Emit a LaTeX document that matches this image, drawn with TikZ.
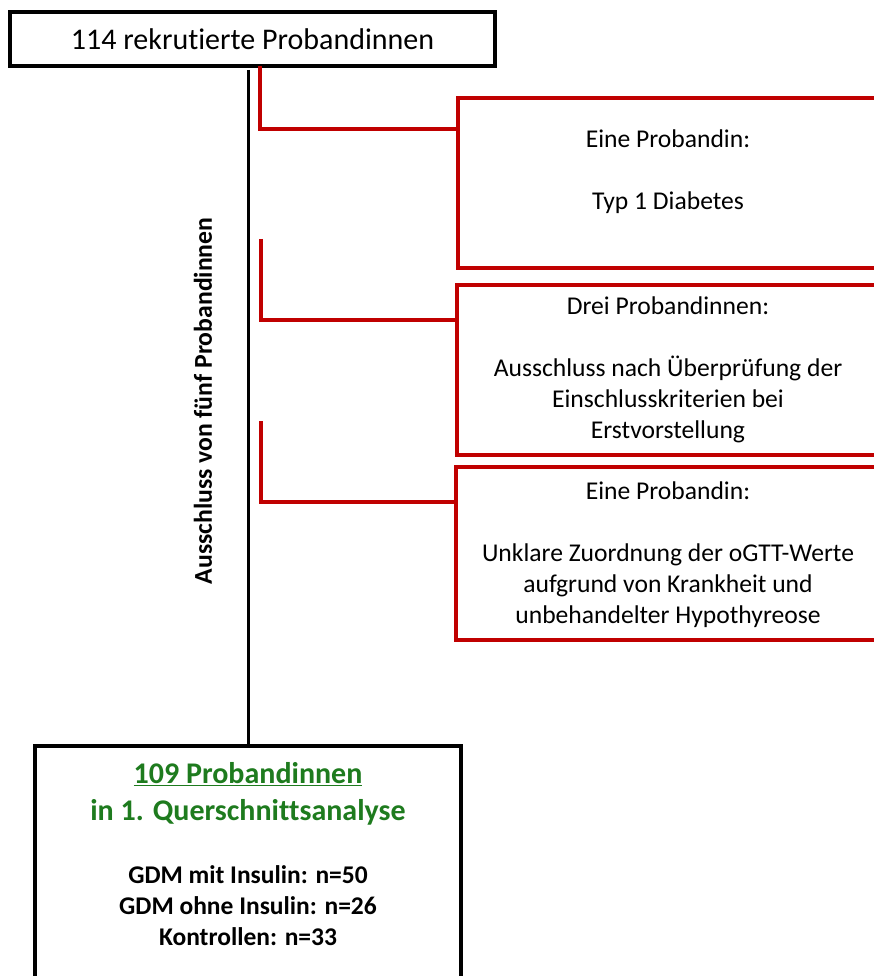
\documentclass[tikz,border=0pt]{standalone}
\usepackage{fontspec}
\setmainfont[Ligatures={NoCommon}]{Carlito}
\definecolor{dred}{HTML}{C00000}
\definecolor{dgreen}{HTML}{1E7B1E}
\begin{document}
\begin{tikzpicture}[x=1pt,y=-1pt,
 blackbox/.style={draw=black, line width=4.5pt, fill=white, outer sep=0pt, inner sep=0pt},
 bottombox/.style={draw=black, line width=3.5pt, fill=white, outer sep=0pt, inner sep=0pt},
 redbox/.style={draw=dred, line width=3.5pt, fill=white, outer sep=0pt, inner sep=0pt},
 redline/.style={draw=dred, line width=3.5pt},
 blackline/.style={draw=black, line width=3pt},
 txt/.style={align=center, inner sep=0pt, font=\fontsize{25.6}{31}\selectfont},
 greentxt/.style={align=center, inner sep=0pt, text=dgreen, font=\bfseries\fontsize{30}{37}\selectfont},
 boldtxt/.style={align=center, inner sep=0pt, font=\bfseries\fontsize{25.5}{31}\selectfont},
 sidetxt/.style={inner sep=0pt, rotate=90, font=\bfseries\fontsize{25.7}{30}\selectfont}
]
\useasboundingbox (0,0) rectangle (874,976);
\clip (0,0) rectangle (874,976);
\coordinate (xa) at (248,0);
\coordinate (xr) at (260,0);
% top box
\node[blackbox, anchor=north west, minimum width=485pt, minimum height=54pt,
      font=\fontsize{30}{36}\selectfont] (top) at (10,12) {114 rekrutierte Probandinnen};
% red boxes
\node[redbox, anchor=north west, minimum width=424pt, minimum height=170pt] (b1) at (458,98) {};
\node[redbox, anchor=north west, minimum width=424pt, minimum height=170pt] (b2) at (457,285) {};
\node[redbox, anchor=north west, minimum width=424pt, minimum height=173pt] (b3) at (456,467) {};
\node[txt] (t1) at (668,172) {Eine Probandin:\\ \\Typ 1 Diabetes};
\node[txt] (t2) at (668,370) {Drei Probandinnen:\\ \\Ausschluss nach Überprüfung der\\Einschlusskriterien bei\\Erstvorstellung};
\node[txt] (t3) at (668,555) {Eine Probandin:\\ \\Unklare Zuordnung der oGTT-Werte\\aufgrund von Krankheit und\\unbehandelter Hypothyreose};
% bottom box
\node[bottombox, anchor=north west, minimum width=426pt, minimum height=260pt] (bot) at (35,746) {};
\node[greentxt] (g1) at (248,794) {\underline{109 Probandinnen}\\in 1. Querschnittsanalyse};
\node[boldtxt] (k1) at (248,906) {GDM mit Insulin: n=50\\GDM ohne Insulin: n=26\\Kontrollen: n=33};
% side label
\node[sidetxt] (side) at (203,401) {Ausschluss von fünf Probandinnen};
% connectors
\coordinate (s2) at (261,239);
\coordinate (s3) at (261,421);
\draw[blackline] ([yshift=-4pt]top.south -| xa) -- (bot.north -| xa);
\draw[redline] (top.south -| xr) |- ([yshift=-31pt]b1.north west);
\draw[redline] (s2) |- ([yshift=-35pt]b2.north west);
\draw[redline] (s3) |- ([yshift=-35pt]b3.north west);
\end{tikzpicture}
\end{document}
